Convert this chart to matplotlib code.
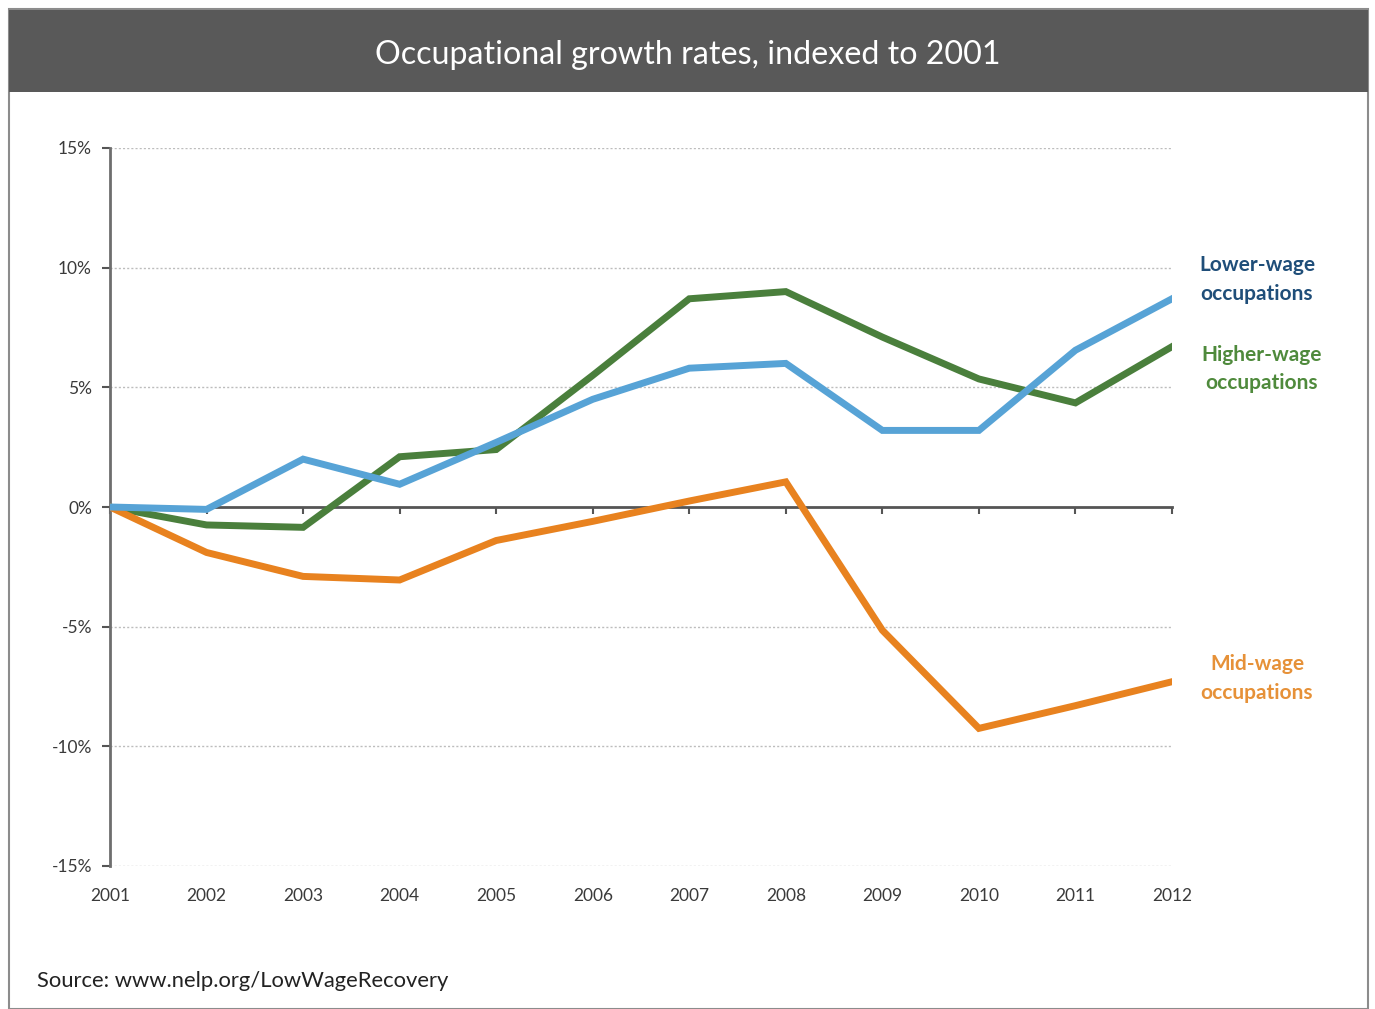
import matplotlib
matplotlib.use("Agg")
import matplotlib.pyplot as plt
from matplotlib.patches import Rectangle

plt.rcParams['font.family'] = ['Lato', 'DejaVu Sans']

years = [2001, 2002, 2003, 2004, 2005, 2006, 2007, 2008, 2009, 2010, 2011, 2012]
lower_wage = [0.0, -0.1, 2.0, 0.95, 2.7, 4.5, 5.8, 6.0, 3.2, 3.2, 6.55, 8.7]
higher_wage = [0.0, -0.75, -0.85, 2.1, 2.4, 5.5, 8.7, 9.0, 7.1, 5.35, 4.35, 6.7]
mid_wage = [0.0, -1.9, -2.9, -3.05, -1.4, -0.6, 0.25, 1.05, -5.15, -9.25, -8.3, -7.3]
yticks = [-15, -10, -5, 0, 5, 10, 15]
ytick_labels = ['-15%', '-10%', '-5%', '0%', '5%', '10%', '15%']

title = "Occupational growth rates, indexed to 2001"
source = "Source: www.nelp.org/LowWageRecovery"

c_blue = '#57a3d6'
c_green = '#4a7f3c'
c_orange = '#e8821f'

W, H = 1375, 1009
fig = plt.figure(figsize=(W / 100, H / 100), dpi=100)
fig.patch.set_facecolor('white')

# outer frame and title bar
fig.patches.append(Rectangle((9 / W, 0), (1368 - 9) / W, 1 - 9 / H, transform=fig.transFigure,
                             facecolor='none', edgecolor='#8c8c8c', lw=1.5, zorder=-1))
fig.patches.append(Rectangle((9 / W, 1 - 92 / H), (1368 - 9) / W, (92 - 10) / H, transform=fig.transFigure,
                             facecolor='#595959', edgecolor='none', zorder=-1))
fig.text(688 / W, 1 - 55 / H, title, color='white', fontsize=23.2, ha='center', va='center')

ax = fig.add_axes([110 / W, 1 - 866 / H, (1172 - 110) / W, (866 - 148) / H])
ax.set_facecolor('none')

for y in yticks:
    if y != 0:
        ax.axhline(y, color='#bdbdbd', lw=1.0, ls=(0, (1.5, 1.5)), zorder=1)

ax.plot(years, lower_wage, color=c_blue, lw=5, solid_joinstyle='miter', zorder=4)
ax.plot(years, higher_wage, color=c_green, lw=5, solid_joinstyle='miter', zorder=3)
ax.plot(years, mid_wage, color=c_orange, lw=5, solid_joinstyle='miter', zorder=3)

ax.set_xlim(years[0], years[-1])
ax.set_ylim(-15, 15)

for s in ['top', 'right']:
    ax.spines[s].set_visible(False)
ax.spines['left'].set_color('#6e6e6e')
ax.spines['left'].set_linewidth(2)
ax.spines['bottom'].set_position(('data', 0))
ax.spines['bottom'].set_color('#555555')
ax.spines['bottom'].set_linewidth(2)
ax.spines['bottom'].set_zorder(2)

ax.set_yticks(yticks)
ax.set_yticklabels(ytick_labels)
ax.tick_params(axis='y', direction='out', length=6, width=1.5, color='#555555',
               labelsize=12.5, labelcolor='#3a3a3a', pad=7)
ax.set_xticks(years)
ax.tick_params(axis='x', direction='out', length=5, width=1.5, color='#555555', labelbottom=False)

sec = ax.secondary_xaxis('bottom')
sec.set_xticks(years)
sec.set_xticklabels([str(y) for y in years])
sec.spines['bottom'].set_visible(False)
sec.tick_params(length=0, labelsize=12.5, labelcolor='#3a3a3a', pad=16)

lbl_kw = dict(transform=ax.get_yaxis_transform(), fontsize=15, fontweight='bold',
              ha='center', va='center', linespacing=1.55)
ax.text(1.08, 9.5, "Lower-wage\noccupations", color='#1f4e79', **lbl_kw)
ax.text(1.084, 5.77, "Higher-wage\noccupations", color='#4f8a3c', **lbl_kw)
ax.text(1.08, -7.15, "Mid-wage\noccupations", color='#e69138', **lbl_kw)

fig.text(37 / W, 1 - 981 / H, source, color='#222222', fontsize=15.8, ha='left', va='center')

fig.savefig('out.png', dpi=100)
